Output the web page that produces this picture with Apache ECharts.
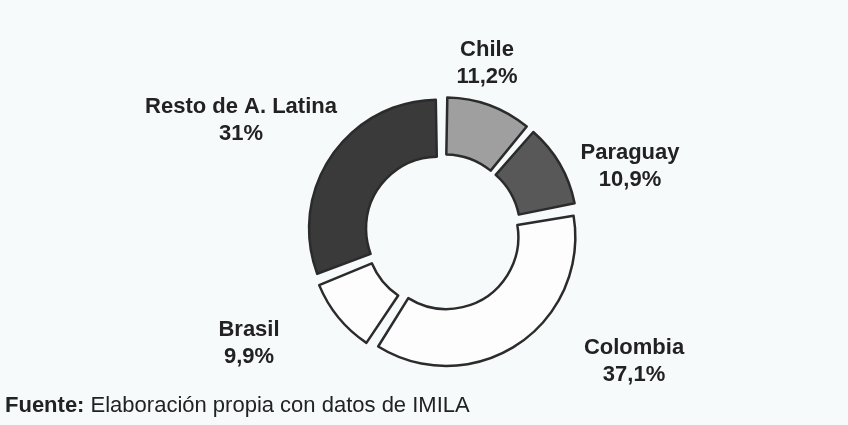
<!DOCTYPE html>
<html>
<head>
<meta charset="utf-8">
<script src="https://cdn.jsdelivr.net/npm/echarts@6/dist/echarts.min.js"></script>
<style>
  html, body { margin: 0; padding: 0; background: #f7fafb; }
  #chart { width: 848px; height: 425px; }
</style>
</head>
<body>
<div id="chart"></div>
<script>
// datos
const countries = ['Chile', 'Paraguay', 'Colombia', 'Brasil', 'Resto de A. Latina']
const shares = [11.2, 10.9, 37.1, 9.9, 31]
const source = 'Elaboración propia con datos de IMILA'

const fills = ['#9f9f9f', '#585858', '#fdfdfd', '#fdfdfd', '#3a3a3a']
// label centres (px)
const labelPos = [[487, 63], [630, 166], [634, 361], [249, 343], [241, 120]]
const font = 'Liberation Sans, Arial, sans-serif'

const fmt = v => String(v).replace('.', ',') + '%'

const myChart = echarts.init(document.getElementById('chart'))

const labels = countries.map((c, i) => ({
  type: 'text',
  x: labelPos[i][0],
  y: labelPos[i][1],
  style: {
    text: c + '\n' + fmt(shares[i]),
    font: 'bold 22px ' + font,
    lineHeight: 27,
    fill: '#222',
    textAlign: 'center',
    textVerticalAlign: 'middle'
  }
}))

const option = {
  backgroundColor: '#f7fafb',
  animation: false,
  series: [
    {
      type: 'pie',
      center: [443, 232],
      radius: [72, 129],
      startAngle: 90,
      clockwise: true,
      padAngle: 2,
      selectedMode: 'multiple',
      selectedOffset: 6,
      data: countries.map((c, i) => ({
        name: c,
        value: shares[i],
        selected: true,
        itemStyle: { color: fills[i] }
      })),
      itemStyle: {
        borderColor: '#2b2b2b',
        borderWidth: 2.5
      },
      label: { show: false },
      labelLine: { show: false },
      emphasis: { disabled: true }
    }
  ],
  graphic: labels.concat([
    {
      type: 'text',
      x: 5,
      y: 406,
      style: {
        text: '{b|Fuente:} ' + source,
        rich: {
          b: { fontWeight: 'bold', fontSize: 22, fontFamily: font, fill: '#222' }
        },
        fontSize: 22,
        fontFamily: font,
        fill: '#222',
        textVerticalAlign: 'middle'
      }
    }
  ])
}
myChart.setOption(option)
</script>
</body>
</html>
